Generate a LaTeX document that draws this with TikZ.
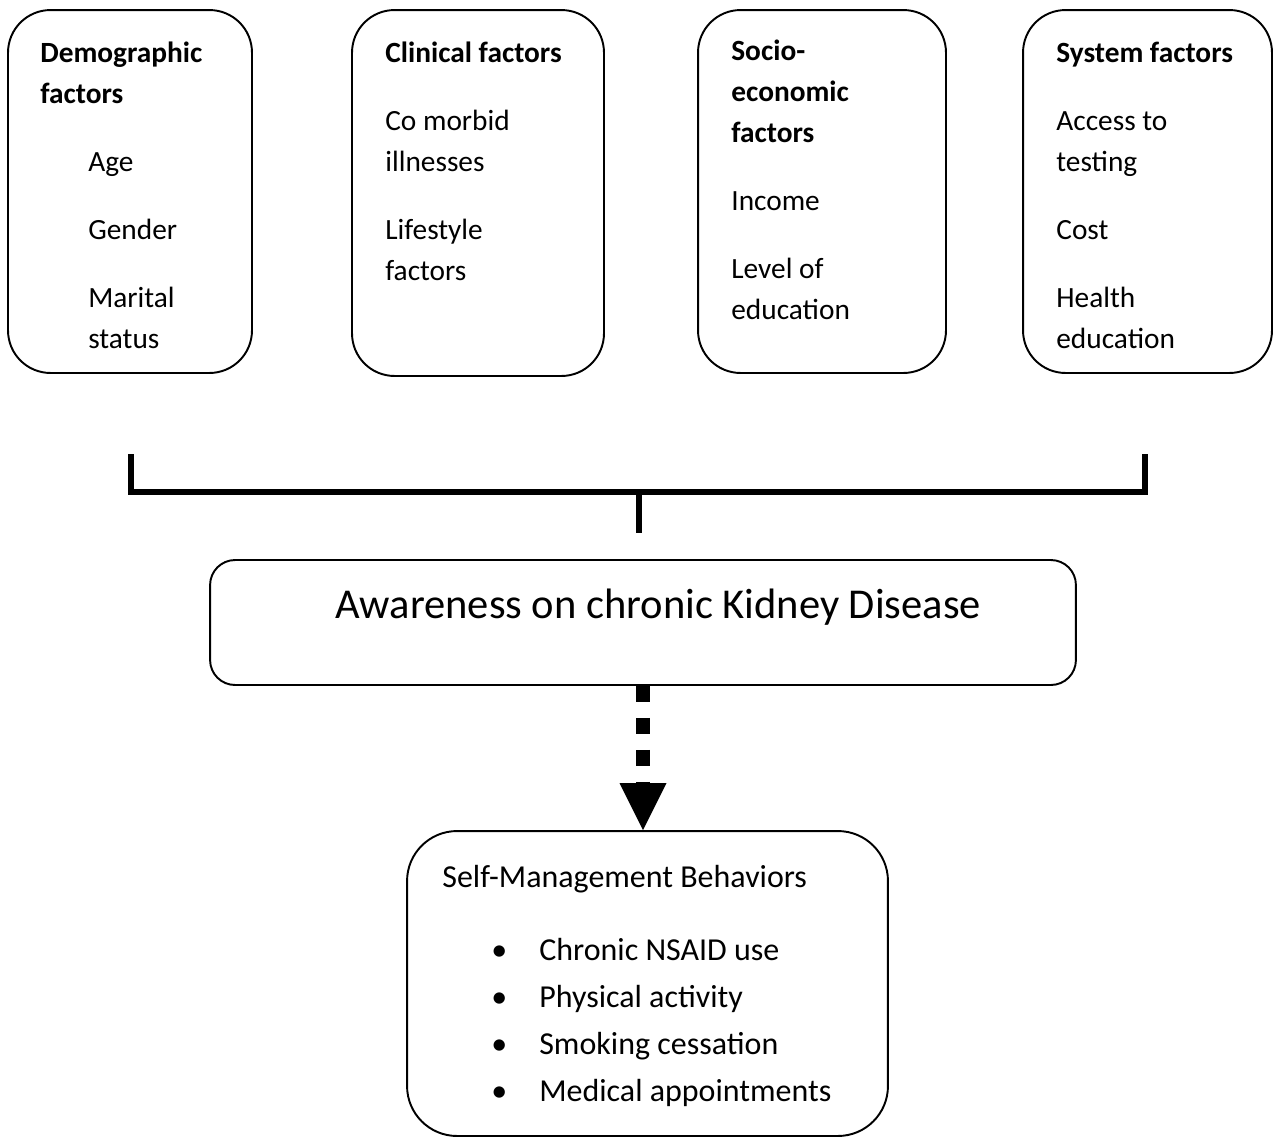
\documentclass[tikz,border=0pt]{standalone}
\usepackage{fontspec}
\setmainfont{Carlito}
\usetikzlibrary{arrows.meta}
\tikzset{
  factorbox/.style={draw, line width=1.1pt, rounded corners=0.85cm, minimum height=7.26cm},
  boxtext/.style={anchor=base west, align=left, inner sep=0pt, font=\fontsize{16.7}{23.3}\selectfont},
  bracket/.style={line width=3.1pt},
  dottedarrow/.style={line width=8.5pt, dash pattern=on 0.32cm off 0.32cm,
    -{Triangle[length=0.94cm, width=0.94cm, line width=0pt]}}
}
\begin{document}
\begin{tikzpicture}[x=0.02cm, y=-0.02cm]
\useasboundingbox (0,0) rectangle (1274,1137);
\node[factorbox, minimum width=4.88cm] (demo) at (130,191.5) {};
\node[factorbox, minimum width=5.04cm, minimum height=7.32cm] (clin) at (478,193) {};
\node[factorbox, minimum width=4.96cm] (socio) at (822,191.5) {};
\node[factorbox, minimum width=4.98cm] (sys) at (1147.5,191.5) {};
% base anchor sits on the last line
\node[boxtext] (demotext) at (40,348) {\textbf{Demographic}\\\textbf{factors}\\[15.4pt]
  \hspace*{27.3pt}Age\\[15.4pt]\hspace*{27.3pt}Gender\\[15.4pt]\hspace*{27.3pt}Marital\\\hspace*{27.3pt}status};
\node[boxtext] (clintext) at (385,280) {\textbf{Clinical factors}\\[15.4pt]Co morbid\\illnesses\\[15.4pt]Lifestyle\\factors};
\node[boxtext] (sociotext) at (731,319) {\textbf{Socio-}\\\textbf{economic}\\\textbf{factors}\\[15.4pt]Income\\[15.4pt]Level of\\education};
\node[boxtext] (systext) at (1056,348) {\textbf{System factors}\\[15.4pt]Access to\\testing\\[15.4pt]Cost\\[15.4pt]Health\\education};
\draw[bracket] (131,454) -- (131,492) -- (1145,492) -- (1145,454);
\coordinate (join) at (639,492);
\coordinate (stemend) at (639,533);
\draw[bracket] (join) -- (stemend);
\node[draw, line width=1.1pt, rounded corners=0.5cm, minimum width=17.32cm, minimum height=2.5cm] (aware) at (643,622.5) {};
\node[anchor=base, inner sep=0pt, font=\fontsize{24.2}{29}\selectfont] (awaretext) at (658,618) {Awareness on chronic Kidney Disease};
\node[draw, line width=1.1pt, rounded corners=1cm, minimum width=9.62cm, minimum height=6.1cm] (self) at (647.5,983.5) {};
\node[anchor=base west, inner sep=0pt, font=\fontsize{18.2}{23.3}\selectfont] (selftitle) at (442,887) {Self-Management Behaviors};
\node[anchor=base west, align=left, inner sep=0pt, font=\fontsize{18.2}{26.7}\selectfont] (selflist) at (491,1101)
  {\makebox[0.96cm][l]{\textbullet}Chronic NSAID use\\\makebox[0.96cm][l]{\textbullet}Physical activity\\
   \makebox[0.96cm][l]{\textbullet}Smoking cessation\\\makebox[0.96cm][l]{\textbullet}Medical appointments};
\draw[dottedarrow] (aware.south) -- (aware.south |- self.north);
\end{tikzpicture}
\end{document}
